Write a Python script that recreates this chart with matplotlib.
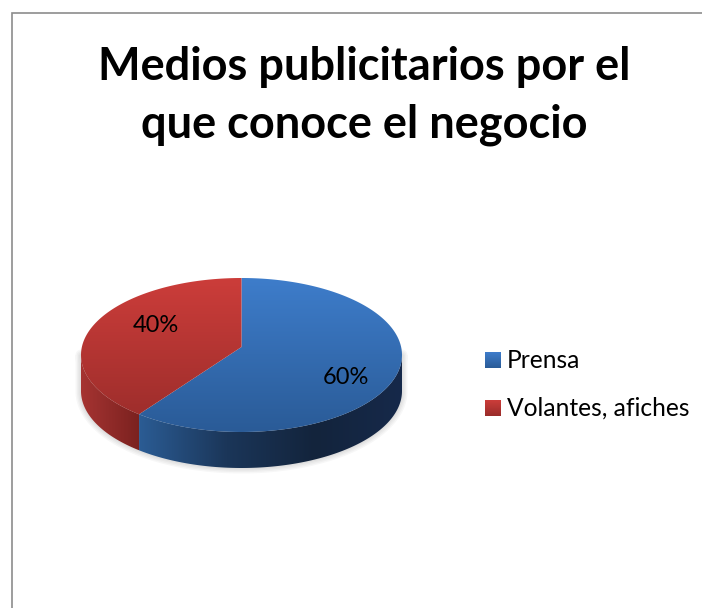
import numpy as np
import matplotlib
matplotlib.use('Agg')
import matplotlib.pyplot as plt
from matplotlib.colors import LinearSegmentedColormap
from matplotlib.patches import Polygon

WIDTH, HEIGHT = 702, 608

title_lines = ['Medios publicitarios por el', 'que conoce el negocio']
categories = ['Prensa', 'Volantes, afiches']
values = [60, 40]

# top face and rim colours per slice, left to right on the rim
top_colors = [('#3e7dcb', '#2a5b97'), ('#cc3d3a', '#992c2a')]
side_colors = [('#2b5c94', '#1b3659', '#13243c', '#16294a'), ('#a63432', '#7a211f')]

plt.rcParams['font.family'] = ['Lato', 'DejaVu Sans']

# camera tilt: moves the pie centre back from the middle of the ellipse
TILT = 0.104


def ramp(colors):
    return LinearSegmentedColormap.from_list('ramp', colors)


def arc(theta1, theta2, n=160):
    # circle points seen in perspective, still an ellipse but with the centre shifted
    t = np.radians(np.linspace(theta1, theta2, n))
    w = 1 + TILT * np.sin(t)
    return np.cos(t) * np.sqrt(1 - TILT ** 2) / w, (np.sin(t) + TILT) / w


fig = plt.figure(figsize=(WIDTH / 100, HEIGHT / 100), dpi=100, facecolor='white')

# pie axes: unit circle squashed to an ellipse, fills the figure
cx, cy, rx, ry = 241.5, 355, 160.5, 77
depth = 36 / ry
pie_ax = fig.add_axes([0, 0, 1, 1])
wedges, _ = pie_ax.pie(values, startangle=90, counterclock=False, radius=1,
                       wedgeprops={'linewidth': 0})
pie_ax.set_aspect('auto')
pie_ax.axis('off')

# the rim starts where the ellipse is widest
rim_lo = 180 + np.degrees(np.arcsin(TILT))
rim_hi = 360 - np.degrees(np.arcsin(TILT))

# soft shadow around the lower rim
xs, ys = arc(rim_lo, rim_hi)
outline = np.column_stack([np.r_[xs, xs[::-1]], np.r_[ys, ys[::-1] - depth]])
for lw in [8, 6, 4, 2]:
    pie_ax.add_patch(Polygon(outline, closed=True, fill=False, edgecolor='black',
                             linewidth=lw, alpha=0.03, zorder=1, joinstyle='round'))

grad = np.linspace(0, 1, 256)
for wedge, top, side in zip(wedges, top_colors, side_colors):
    theta1, theta2 = wedge.theta1 % 360, wedge.theta2 % 360
    if theta2 <= theta1:
        theta2 += 360
    wedge.set_visible(False)

    # rim: only the part of the slice facing the viewer
    xs, ys = arc(max(theta1, rim_lo), min(theta2, rim_hi))
    rim = Polygon(np.column_stack([np.r_[xs, xs[::-1]], np.r_[ys, ys[::-1] - depth]]),
                  closed=True, facecolor='none', edgecolor='none')
    pie_ax.add_patch(rim)
    im = pie_ax.imshow(grad[None, :], cmap=ramp(side), aspect='auto', zorder=2,
                       extent=(xs.min(), xs.max(), -1 - depth, 0.2))
    im.set_clip_path(rim)

    # top face: lighter at the back, darker at the front
    xs, ys = arc(theta1, theta2)
    _, apex_y = arc(0, 0, 1)
    face = Polygon(np.column_stack([np.r_[0, xs], np.r_[apex_y, ys]]), closed=True,
                   facecolor='none', edgecolor='none')
    pie_ax.add_patch(face)
    im = pie_ax.imshow(grad[:, None], cmap=ramp(top), aspect='auto', zorder=3,
                       extent=(-1, 1, -1, 1))
    im.set_clip_path(face)

pie_ax.set_xlim(-cx / rx, (WIDTH - cx) / rx)
pie_ax.set_ylim((cy - HEIGHT) / ry, cy / ry)

# overlay in pixel coordinates for frame, title, labels and legend
ax = fig.add_axes([0, 0, 1, 1], facecolor='none')
ax.axis('off')

ax.plot([11.5, 11.5, WIDTH], [HEIGHT, 12.5, 12.5], color='#8c8c8c', linewidth=1.2,
        solid_joinstyle='miter')

ax.text(364, 67, title_lines[0], fontsize=32.5, fontweight='bold', ha='center', va='center')
ax.text(364, 125, title_lines[1], fontsize=32.5, fontweight='bold', ha='center', va='center')

label_pos = [(346, 378), (156, 325)]
for value, (x, y) in zip(values, label_pos):
    ax.text(x, y, f'{value}%', fontsize=17, ha='center', va='center', color='black')

for i, (name, top) in enumerate(zip(categories, top_colors)):
    y = 352 + 48 * i
    ax.imshow(grad[:, None], cmap=ramp(top), aspect='auto',
              extent=(485, 501, y + 16, y))
    ax.text(507, y + 8, name, fontsize=17.7, ha='left', va='center', color='black')
ax.set_xlim(0, WIDTH)
ax.set_ylim(HEIGHT, 0)

fig.savefig('out.png', dpi=100)
plt.close(fig)
